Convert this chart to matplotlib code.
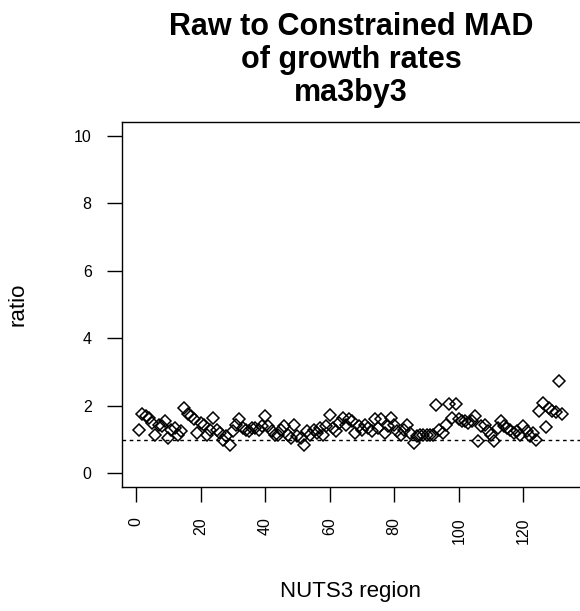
import matplotlib
matplotlib.use("Agg")
import matplotlib.pyplot as plt

plt.rcParams["font.family"] = ["Liberation Sans", "DejaVu Sans"]

# Ratio of raw to constrained MAD of growth rates, one value per NUTS3 region
ratio = [
    1.30, 1.75, 1.70, 1.65, 1.50, 1.15, 1.45, 1.40, 1.55, 1.05,
    1.30, 1.35, 1.15, 1.25, 1.95, 1.75, 1.70, 1.60, 1.20, 1.50,
    1.45, 1.15, 1.30, 1.65, 1.30, 1.20, 1.00, 1.10, 0.85, 1.25,
    1.45, 1.60, 1.35, 1.30, 1.25, 1.35, 1.35, 1.30, 1.40, 1.70,
    1.40, 1.25, 1.15, 1.15, 1.30, 1.40, 1.15, 1.05, 1.45, 1.10,
    1.05, 0.85, 1.25, 1.15, 1.30, 1.20, 1.35, 1.15, 1.40, 1.72,
    1.35, 1.25, 1.50, 1.65, 1.45, 1.60, 1.55, 1.20, 1.40, 1.30,
    1.45, 1.35, 1.25, 1.60, 1.35, 1.60, 1.20, 1.40, 1.65, 1.45,
    1.25, 1.15, 1.30, 1.45, 1.20, 0.90, 1.10, 1.15, 1.15, 1.15,
    1.15, 1.15, 2.02, 1.30, 1.20, 1.45, 2.07, 1.65, 2.05, 1.60,
    1.55, 1.55, 1.50, 1.55, 1.70, 0.95, 1.40, 1.45, 1.25, 1.15,
    0.95, 1.35, 1.55, 1.40, 1.35, 1.30, 1.20, 1.25, 1.15, 1.40,
    1.25, 1.10, 1.20, 1.00, 1.85, 2.10, 1.38, 1.95, 1.85, 1.82,
    2.73, 1.75,
]
region = list(range(1, len(ratio) + 1))

x_ticks = [0, 20, 40, 60, 80, 100, 120]
y_ticks = [0, 2, 4, 6, 8, 10]
reference_level = 1.0

W, H = 580, 611
fig = plt.figure(figsize=(W / 100, H / 100), dpi=100)

# plot region in pixels
left_px, top_px, bottom_px = 122.3, 122.3, 487.0
xmin, xmax = -4.24, 138.5
px_per_unit = 3.228
right_px = left_px + (xmax - xmin) * px_per_unit
ax = fig.add_axes([left_px / W, 1 - bottom_px / H,
                   (right_px - left_px) / W, (bottom_px - top_px) / H])

ax.plot(region, ratio, linestyle="none", marker="D", markersize=6.4,
        markerfacecolor="none", markeredgecolor="black", markeredgewidth=1.1)
ax.axhline(reference_level, color="black", linewidth=1.0, dashes=(2.6, 2.6))

ax.set_xlim(xmin, xmax)
ax.set_ylim(-0.4, 10.4)
ax.set_xticks(x_ticks)
ax.set_yticks(y_ticks)
ax.set_xticklabels([str(t) for t in x_ticks], rotation=90, fontsize=11.5)
ax.set_yticklabels([str(t) for t in y_ticks], fontsize=11.5)
ax.tick_params(axis="both", direction="out", length=11, width=1.0, pad=11,
               colors="black")
for s in ax.spines.values():
    s.set_linewidth(1.0)

fig.text(0.5 * (left_px + 580) / W, 1 - 12 / H,
         "Raw to Constrained MAD\nof growth rates\nma3by3",
         ha="center", va="top", fontsize=22, fontweight="bold",
         linespacing=1.12)
fig.text(18 / W, 1 - 304 / H, "ratio", rotation=90, ha="center",
         va="center", fontsize=16)
fig.text(351 / W, 1 - 592 / H, "NUTS3 region", ha="center", va="center",
         fontsize=16)

fig.savefig("out.png", dpi=100)
